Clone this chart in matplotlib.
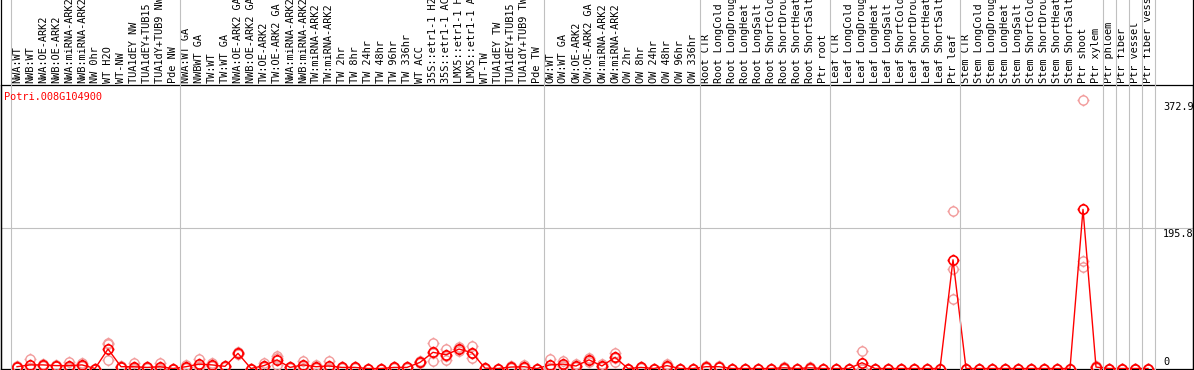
import matplotlib
matplotlib.use("Agg")
import matplotlib.pyplot as plt
from matplotlib.path import Path
from matplotlib.transforms import blended_transform_factory
from matplotlib.lines import Line2D
import numpy as np

gene_id = "Potri.008G104900"

samples = [
    "NWA:WT", "NWB:WT", "NWA:OE-ARK2", "NWB:OE-ARK2", "NWA:miRNA-ARK2", "NWB:miRNA-ARK2",
    "NW 0hr", "WT H2O", "WT-NW", "TUA1dEY NW", "TUA1dEY+TUB15 NW", "TUA1dY+TUB9 NW", "Pde NW",
    "NWA:WT GA", "NWBWT GA", "TW:WT", "TW:WT GA", "NWA:OE-ARK2 GA", "NWB:OE-ARK2 GA",
    "TW:OE-ARK2", "TW:OE-ARK2 GA", "NWA:miRNA-ARK2", "NWB:miRNA-ARK2", "TW:miRNA-ARK2",
    "TW:miRNA-ARK2", "TW 2hr", "TW 8hr", "TW 24hr", "TW 48hr", "TW 96hr", "TW 336hr",
    "WT ACC", "35S::etr1-1 H2O", "35S::etr1-1 ACC", "LMX5::etr1-1 H2O", "LMX5::etr1-1 ACC",
    "WT-TW", "TUA1dEY TW", "TUA1dEY+TUB15 TW", "TUA1dY+TUB9 TW", "Pde TW",
    "OW:WT", "OW:WT GA", "OW:OE-ARK2", "OW:OE-ARK2 GA", "OW:miRNA-ARK2", "OW:miRNA-ARK2",
    "OW 2hr", "OW 8hr", "OW 24hr", "OW 48hr", "OW 96hr", "OW 336hr",
    "Root CTR", "Root LongCold", "Root LongDrought", "Root LongHeat", "Root LongSalt",
    "Root ShortCold", "Root ShortDrought", "Root ShortHeat", "Root ShortSalt", "Ptr root",
    "Leaf CTR", "Leaf LongCold", "Leaf LongDrought", "Leaf LongHeat", "Leaf LongSalt",
    "Leaf ShortCold", "Leaf ShortDrought", "Leaf ShortHeat", "Leaf ShortSalt", "Ptr leaf",
    "Stem CTR", "Stem LongCold", "Stem LongDrought", "Stem LongHeat", "Stem LongSalt",
    "Stem ShortCold", "Stem ShortDrought", "Stem ShortHeat", "Stem ShortSalt", "Ptr shoot",
    "Ptr xylem", "Ptr phloem", "Ptr fiber", "Ptr vessel", "Ptr fiber vessel",
]

mean_values = [
    2.5, 5, 5, 4, 4, 5, 0, 27, 2.5, 2.5, 1.5, 2.5, 0,
    2.5, 6, 5, 3, 21, 0, 4, 12, 1.5, 5, 2.5, 3.5, 1.5, 1.5, 0, 0, 1.5, 1.5,
    8.5, 22.5, 19, 27, 22, 0.5, 0, 2, 2.5, 0,
    5, 6, 3.5, 12, 3.5, 15.5, 0, 1.5, 0, 4, 0, 0,
    2.5, 2.5, 0, 0, 0, 0, 1, 0, 1, 0,
    0, 0, 8, 0, 0, 0, 0, 0, 0, 151,
    0, 0, 0, 0, 0, 0, 0, 0, 0, 221,
    2, 0, 0, 0, 0,
]

rep1 = [
    3, 13, 6, 5, 9, 8, 0, 36, 3, 7, 2, 8, 0,
    5, 13, 8, 4, 23, 0, 7, 17, 2, 11, 5, 10, 2, 2, 0, 0, 2, 2,
    10, 35, 27, 30, 31, 1, 0, 3, 5, 0,
    13, 11, 6, 15, 6, 22, 0, 2, 0, 6, 0, 0,
    4, 3, 0, 0, 0, 0, 2.5, 0, 2.5, 0,
    0, 0, 24, 0, 0, 0, 0, 0, 0, 219,
    0, 0, 0, 0, 0, 0, 0, 0, 0, 372.9,
    3, 0, 0, 0, 0,
]
rep2 = [
    2, 1, 4, 3, 2, 4, 0, 34, 2, 0.5, 1.5, 0, 0,
    1.5, 3, 4, 3, 20, 0, 3, 14, 1.5, 3, 1.5, 0.5, 1.5, 1.5, 0, 0, 1.5, 1.5,
    8.5, 22, 18, 27, 21, 0.5, 0, 2, 1.5, 0,
    1, 4, 3, 12, 3, 15, 0, 1.5, 0, 4, 0, 0,
    2.5, 2.5, 0, 0, 0, 0, 0.5, 0, 0.5, 0,
    0, 0, 0, 0, 0, 0, 0, 0, 0, 138,
    0, 0, 0, 0, 0, 0, 0, 0, 0, 149,
    2, 0, 0, 0, 0,
]
rep3 = [
    2.5, 1, 5, 4, 1, 3, 0, 12, 2.5, 0, 1, 0, 0,
    1, 2, 3, 2, 20, 0, 2, 5, 1, 1, 1, 0, 1, 1, 0, 0, 1, 1,
    7, 11, 12, 24, 14, 0, 0, 1, 1, 0,
    1, 3, 1.5, 9, 1.5, 9.5, 0, 1, 0, 2, 0, 0,
    1, 2, 0, 0, 0, 0, 0, 0, 0, 0,
    0, 0, 0, 0, 0, 0, 0, 0, 0, 97,
    0, 0, 0, 0, 0, 0, 0, 0, 0, 141,
    1, 0, 0, 0, 0,
]

axis_labels = ["372.9", "195.8", "0"]
axis_values = [372.9, 195.8, 0]
group_breaks = [-0.5, 12.5, 40.5, 52.5, 62.5, 72.5, 83.5, 84.5, 85.5, 86.5, 87.5]

W, H = 1194, 370
fig = plt.figure(figsize=(W / 100, H / 100), dpi=100)
fig.patch.set_facecolor("white")

ax_left_px, ax_right_px = 1, 1193
ax_top_px, ax_bot_px = 85, 369
ax = fig.add_axes([ax_left_px / W, 1 - ax_bot_px / H,
                   (ax_right_px - ax_left_px) / W, (ax_bot_px - ax_top_px) / H])
x0_px, step_px = 17.0, 13.0
ax.set_xlim((ax_left_px - x0_px) / step_px, (ax_right_px - x0_px) / step_px)
zero_px, scale = 368.5, 0.72
ax.set_ylim((zero_px - ax_bot_px) / scale, (zero_px - ax_top_px) / scale)
ax.set_xticks([])
ax.set_yticks([])
for s in ax.spines.values():
    s.set_color("black")
    s.set_linewidth(0.9)

mono = "DejaVu Sans Mono"
fs = 7.4
grid_c = "#c0c0c0"

# marker: polygonal circle with four short ticks outside
th = np.linspace(0, 2 * np.pi, 41)
circ_v = np.column_stack([np.cos(th), np.sin(th)])
circ = Path(circ_v, [Path.MOVETO] + [Path.LINETO] * 40)
t = 1.3
ticks = Path([(0, 1.0), (0, t), (0, -1.0), (0, -t),
              (1.0, 0), (t, 0), (-1.0, 0), (-t, 0)],
             [Path.MOVETO, Path.LINETO] * 4)
mk = Path.make_compound_path(circ, ticks)
msize = 8.6

xs = np.arange(len(samples))

ax.axhline(195.8, color=grid_c, lw=0.8, zorder=1)

trans = blended_transform_factory(ax.transData, fig.transFigure)
for b in group_breaks:
    fig.add_artist(Line2D([b, b], [0, 1], transform=trans, color=grid_c, lw=0.8, zorder=1))

fig.add_artist(Line2D([ax_left_px / W] * 2, [0, 1], transform=fig.transFigure, color="black", lw=0.9))
fig.add_artist(Line2D([ax_right_px / W] * 2, [0, 1], transform=fig.transFigure, color="black", lw=0.9))

rep_c = "#f29c9c"
for r in (rep1, rep2, rep3):
    ax.plot(xs, r, linestyle="none", marker=mk, markersize=msize, markerfacecolor="none",
            markeredgecolor=rep_c, markeredgewidth=1.0, zorder=3)

ax.plot(xs, mean_values, color="#ff0000", lw=1.0, zorder=4)
ax.plot(xs, mean_values, linestyle="none", marker=mk, markersize=msize, markerfacecolor="none",
        markeredgecolor="#ff0000", markeredgewidth=1.2, zorder=5)

for i, lab in enumerate(samples):
    ax.text(i, 1 - 83 / H, lab, transform=trans, rotation=90, ha="center", va="bottom",
            fontsize=fs, family=mono, color="black", clip_on=False)

fig.text(4 / W, 1 - 92 / H, gene_id, color="#ff0000", fontsize=fs, family=mono,
         ha="left", va="top")

tr2 = blended_transform_factory(fig.transFigure, ax.transData)
for lab, v in zip(axis_labels, axis_values):
    if v == 0:
        ax.text(1163 / W, v + 2.5, lab, transform=tr2, ha="left", va="bottom",
                fontsize=fs, family=mono, color="black")
    else:
        ax.text(1163 / W, v - 2.5, lab, transform=tr2, ha="left", va="top",
                fontsize=fs, family=mono, color="black")

fig.savefig("out.png", dpi=100)
